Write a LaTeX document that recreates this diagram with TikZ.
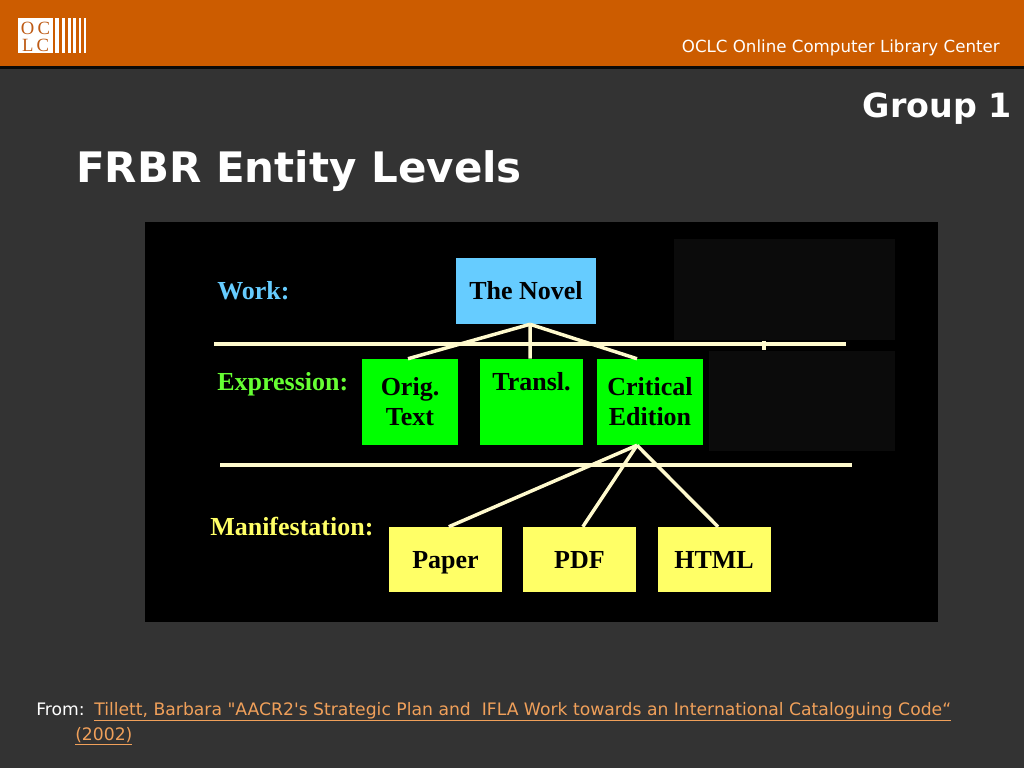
\documentclass[tikz,border=0pt]{standalone}
\usepackage{fontspec}
\setmainfont{DejaVu Sans}
\newfontfamily\tms{Liberation Serif}
\usetikzlibrary{calc}
\definecolor{bgc}{RGB}{51,51,51}
\definecolor{hdrc}{RGB}{204,92,0}
\definecolor{logoc}{RGB}{190,90,20}
\definecolor{workc}{RGB}{102,204,255}
\definecolor{exprc}{RGB}{0,255,0}
\definecolor{exprlab}{RGB}{102,255,51}
\definecolor{manc}{RGB}{255,255,102}
\definecolor{linec}{RGB}{255,250,205}
\definecolor{linkc}{RGB}{240,160,90}
\definecolor{dimc}{RGB}{11,11,11}
\tikzset{
  boxbase/.style={rectangle, inner sep=0pt, align=center, text=black,
    font=\tms\bfseries\fontsize{19.5}{22.5}\selectfont},
  workbox/.style={boxbase, fill=workc, minimum width=105pt, minimum height=49.5pt},
  exprbox/.style={boxbase, fill=exprc, minimum height=64.5pt},
  manbox/.style={boxbase, fill=manc, minimum width=84.75pt, minimum height=48.75pt, text height=13pt, text depth=0pt},
  levellabel/.style={anchor=west, inner sep=0pt, font=\tms\bfseries\fontsize{19.5}{22.5}\selectfont},
  conn/.style={draw=linec, line width=2.6pt},
  hline/.style={draw=linec, line width=2.6pt},
  plaintext/.style={inner sep=0pt, text=white},
  logotext/.style={inner sep=0pt, text=logoc, font=\tms\fontsize{14}{14}\selectfont},
}
\begin{document}
\begin{tikzpicture}[x=0.75pt,y=-0.75pt]
\useasboundingbox (0,0) rectangle (1024,768);
% background
\fill[bgc] (0,0) rectangle (1024,768);
\fill[hdrc] (0,0) rectangle (1024,66);
\fill[black!80!bgc] (0,66) rectangle (1024,69);
% logo
\fill[white] (18,18) rectangle (53,53);
\foreach \a/\b in {55/59,62/65,68/71,73/76,79/81,84/85.5} \fill[white] (\a,18) rectangle (\b,53);
\node[logotext, anchor=base] (logoa) at (35.5,34) {O\,C};
\node[logotext, anchor=base] (logob) at (35.5,51) {L\,C};
% header texts
\node[plaintext, anchor=east, font=\fontsize{12.5}{14}\selectfont] (org) at (1000,48) {OCLC Online Computer Library Center};
\node[plaintext, anchor=east, font=\bfseries\fontsize{25}{29}\selectfont] (grp) at (1012,109) {Group 1};
\node[plaintext, anchor=west, font=\bfseries\fontsize{31.5}{36}\selectfont] (title) at (76,171) {FRBR Entity Levels};
% diagram panel
\fill[black] (145,222) rectangle (938,622);
\fill[dimc] (674,239) rectangle (895,340);
\fill[dimc] (709,351) rectangle (895,451);
% level lines
\draw[hline] (214,344) -- (846,344);
\draw[linec, line width=2.4pt] (764,340.5) -- (764,349.5);
\draw[hline] (220,465) -- (852,465);
% labels
\node[levellabel, text=workc] (lwork) at (217,291) {Work:};
\node[levellabel, text=exprlab] (lexpr) at (217,384) {Expression:};
\node[levellabel, text=manc] (lman) at (210,527) {Manifestation:};
% boxes
\node[workbox] (novel) at (526,291) {The Novel};
\node[exprbox, minimum width=72pt] (orig) at (410,402) {Orig.\\Text};
\node[exprbox, minimum width=77.25pt] (transl) at (531.5,402) {Transl.\\[8pt]~};
\node[exprbox, minimum width=79.5pt] (crit) at (650,402) {Critical\\Edition};
\node[manbox] (paper) at (445.5,559.5) {Paper};
\node[manbox] (pdf) at (579.5,559.5) {PDF};
\node[manbox] (html) at (714,559.5) {HTML};
% connectors
\coordinate (nb) at ([xshift=3pt]novel.south);
\coordinate (cb) at ([xshift=-9.75pt]crit.south);
\draw[conn] (nb) -- ([xshift=-1.5pt]orig.north);
\draw[conn] (nb) -- ([xshift=-1pt]transl.north);
\draw[conn] (nb) -- ([xshift=-9.75pt]crit.north);
\draw[conn] (cb) -- ([xshift=2.5pt]paper.north);
\draw[conn] (cb) -- ([xshift=2.5pt]pdf.north);
\draw[conn] (cb) -- ([xshift=3pt]html.north);
% footer
\node[plaintext, anchor=base west, font=\fontsize{12.9}{15}\selectfont] (from) at (36,715) {From:};
\node[inner sep=0pt, anchor=base west, text=linkc, font=\fontsize{12.9}{15}\selectfont] (link1) at (94,715) {\underline{Tillett, Barbara \textquotedbl AACR2\textquotesingle s Strategic Plan and\ \ IFLA Work towards an International Cataloguing Code“}};
\node[inner sep=0pt, anchor=base west, text=linkc, font=\fontsize{12.9}{15}\selectfont] (link2) at (75,740) {\underline{(2002)}};
\end{tikzpicture}
\end{document}
